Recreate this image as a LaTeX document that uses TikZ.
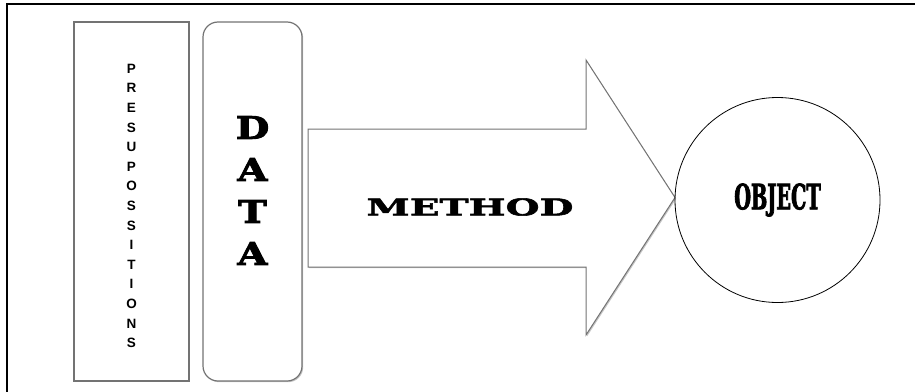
\documentclass[tikz,border=0pt]{standalone}
\usepackage{fontspec}
\usepackage{tikz}
\usetikzlibrary{shadows}
\newfontfamily\presfont{Liberation Sans Bold}
\newfontfamily\datafont[FakeStretch=1.25, FakeBold=3]{DejaVu Serif Bold}
\newfontfamily\methodfont[FakeStretch=1.7, FakeBold=2.5]{DejaVu Serif Bold}
\newfontfamily\objfont[FakeStretch=0.55, FakeBold=2]{DejaVu Serif Bold}

\begin{document}
\begin{tikzpicture}[
    x=1pt, y=-1pt,
    panel/.style={draw=black!55, line width=1.2pt, fill=white, minimum width=#1, minimum height=359pt,
        drop shadow={shadow xshift=1.2pt, shadow yshift=-1.2pt, fill=black!45}},
    arrowshape/.style={draw=black!55, line width=1pt, fill=white,
        drop shadow={shadow xshift=1.2pt, shadow yshift=-1.2pt, fill=black!45}},
    presfnt/.style={font=\presfont\fontsize{13.5}{19.6}\selectfont, align=center, inner sep=0pt},
    datafnt/.style={font=\datafont\fontsize{31}{42}\selectfont, align=center, inner sep=0pt}
]
\useasboundingbox (0,0) rectangle (915,391);

% outer frame (only top and left edges visible)
\draw[line width=2.5pt] (7,400) -- (7,4) -- (925,4);

\node[panel=115pt] (pres) at (131.5,201.5) {};
\node[panel=99pt, rounded corners=15pt] (data) at (252.5,201.5) {};

\node[presfnt] (prestxt) at ([yshift=-4.5pt]pres.center)
    {P\\R\\E\\S\\U\\P\\O\\S\\S\\I\\T\\I\\O\\N\\S};
\node[datafnt] (datatxt) at ([yshift=11pt]data.center) {D\\A\\T\\A};

% method arrow
\coordinate (tip) at (675,197.5);
\path[arrowshape] (308,129) -- (586,129) -- (586,60) -- (tip) -- (586,335)
    -- (586,267) -- (308,267) -- cycle;
\node[font=\methodfont\fontsize{23}{26}\selectfont] (method) at (470,207) {METHOD};

\node[draw, circle, line width=0.8pt, minimum size=205pt, inner sep=0pt,
    font=\objfont\fontsize{35}{36}\selectfont] (obj) at (777.5,200) {OBJECT};
\end{tikzpicture}
\end{document}
